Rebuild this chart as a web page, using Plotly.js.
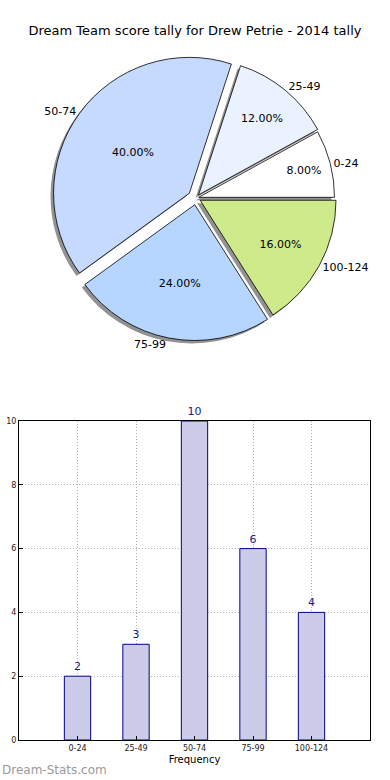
<!DOCTYPE html>
<html>
<head>
<meta charset="utf-8">
<script src="https://cdn.plot.ly/plotly-3.0.1.min.js"></script>
<style>html,body{margin:0;padding:0;background:#fff;}#chart{width:390px;height:780px;}</style>
</head>
<body>
<div id="chart"></div>
<script>
const categories = ['0-24', '25-49', '50-74', '75-99', '100-124'];
const counts = [2, 3, 10, 6, 4];
const sliceColors = ['#ffffff', '#ebf2ff', '#c6d9ff', '#b7d6ff', '#cfea8b'];
const pulls = [0.02, 0.03, 0.06, 0.05, 0.035];
const yTicks = [0, 2, 4, 6, 8, 10];

const FONT = 'DejaVu Sans, sans-serif';
const total = counts.reduce((a, b) => a + b, 0);
// first slice starts at 3 o'clock going counterclockwise
const rot = 90 - 360 * counts[0] / total;
// paper area: x 19..370 (351px), y 0..740 (740px)
const W = 351, H = 740;
const pieCx = 196, pieCy = 198, pieR = 144;
const pieDomain = (dx, dy) => ({
  x: [(pieCx - pieR - 19 + dx) / W, (pieCx + pieR - 19 + dx) / W],
  y: [(H - (pieCy + pieR) - dy) / H, (H - (pieCy - pieR) - dy) / H]
});

const shadow = {
  type: 'pie', labels: categories, values: counts, sort: false,
  direction: 'counterclockwise', rotation: rot, pull: pulls,
  marker: {colors: categories.map(() => 'rgba(110,110,110,0.75)'), line: {width: 0}},
  textinfo: 'none', hoverinfo: 'skip', showlegend: false,
  domain: pieDomain(-3, 3)
};
const mainPie = {
  type: 'pie', labels: categories, values: counts, sort: false,
  direction: 'counterclockwise', rotation: rot, pull: pulls,
  marker: {colors: sliceColors, line: {color: '#000', width: 0.8}},
  texttemplate: '%{percent:.2%}', textposition: 'inside',
  insidetextorientation: 'horizontal',
  insidetextfont: {family: FONT, size: 11, color: '#000'},
  showlegend: false, domain: pieDomain(0, 0)
};
const labelPie = {
  type: 'pie', labels: categories, values: counts, sort: false,
  direction: 'counterclockwise', rotation: rot, pull: pulls,
  marker: {colors: categories.map(() => 'rgba(0,0,0,0)'), line: {width: 0}},
  texttemplate: '%{label}', textposition: 'outside',
  outsidetextfont: {family: FONT, size: 11, color: '#000'},
  hoverinfo: 'skip', showlegend: false, domain: pieDomain(0, 0)
};
const bars = {
  type: 'bar', x: categories, y: counts, width: 0.45,
  marker: {color: '#ccccea', line: {color: '#00008b', width: 1}},
  text: counts.map(String), textposition: 'outside', cliponaxis: false,
  textfont: {family: FONT, size: 11, color: '#1a1a8c'},
  xaxis: 'x', yaxis: 'y', showlegend: false
};

const layout = {
  width: 390, height: 780,
  margin: {l: 19, r: 20, t: 0, b: 40},
  paper_bgcolor: '#fff', plot_bgcolor: '#fff',
  font: {family: FONT, color: '#000'},
  title: {text: 'Dream Team score tally for Drew Petrie - 2014 tally',
    font: {family: FONT, size: 13, color: '#000'},
    x: 0.5, xanchor: 'center', xref: 'container', y: 1 - 30 / 780, yanchor: 'middle', yref: 'container'},
  xaxis: {domain: [0, 1], range: [-1, 5], type: 'category',
    showline: true, mirror: true, linecolor: '#000', linewidth: 1,
    showgrid: true, gridcolor: '#b0b0b0', griddash: '1px,2px', gridwidth: 1,
    ticks: 'inside', ticklen: 4, tickcolor: '#000',
    tickfont: {family: FONT, size: 8, color: '#222'},
    title: {text: 'Frequency', font: {family: FONT, size: 10, color: '#000'}, standoff: 4},
    zeroline: false, fixedrange: true},
  yaxis: {domain: [0, (740 - 421) / 740], range: [0, 10], tickvals: yTicks,
    showline: true, mirror: true, linecolor: '#000', linewidth: 1,
    showgrid: true, gridcolor: '#b0b0b0', griddash: '1px,2px', gridwidth: 1,
    ticks: 'inside', ticklen: 4, tickcolor: '#000',
    tickfont: {family: FONT, size: 8, color: '#222'},
    zeroline: false, fixedrange: true},
  annotations: [{text: 'Dream-Stats.com', xref: 'paper', yref: 'paper',
    x: -19 / W, xanchor: 'left', y: (740 - 770) / H, yanchor: 'middle',
    showarrow: false, font: {family: FONT, size: 12, color: '#9a9a9a'}}]
};

Plotly.newPlot('chart', [shadow, mainPie, labelPie, bars], layout, {displayModeBar: false, staticPlot: true});
</script>
</body>
</html>
